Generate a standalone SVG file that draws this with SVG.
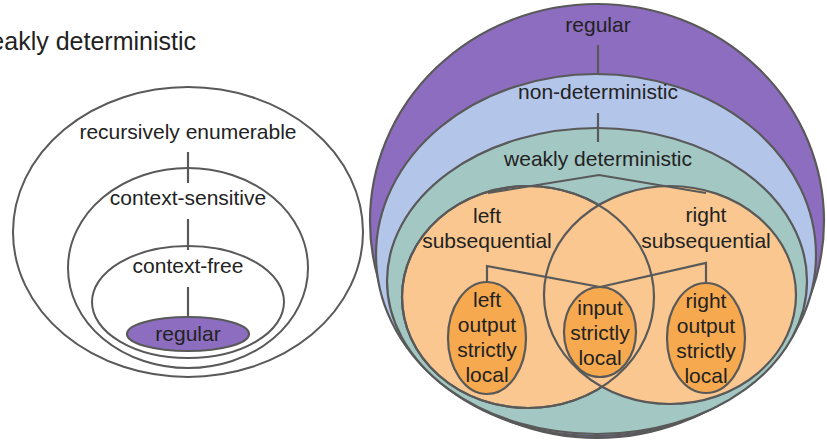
<svg xmlns="http://www.w3.org/2000/svg" width="827" height="442" viewBox="0 0 827 442">
<style>
text{font-family:"Liberation Sans",Arial,sans-serif;font-size:21px;fill:#222;text-anchor:middle}
.plain{fill:none;stroke:#595959;stroke-width:2}
.s{stroke:#595959;stroke-width:2.2}
.purple{fill:#8d6dbf}
.blue{fill:#b3c6ea}
.teal{fill:#a3c7c3}
.lo{fill:#f9c78f}
.do{fill:#f6a94f}
.outline{fill:none}
.conn line,.conn polyline{fill:none;stroke:#595959;stroke-width:2.2}
</style>
<text x="196" y="50" style="font-size:25px;text-anchor:end">weakly deterministic</text>

<g id="recursively-enumerable"><ellipse class="plain" cx="188" cy="232" rx="175" ry="145"/><text x="188" y="139">recursively enumerable</text></g>
<g id="context-sensitive"><ellipse class="plain" cx="188" cy="268" rx="120" ry="100"/><text x="188" y="205">context-sensitive</text></g>
<g id="context-free"><ellipse class="plain" cx="188" cy="302" rx="96" ry="56"/><text x="188" y="273">context-free</text></g>
<g id="regular-left"><ellipse class="s purple" cx="188" cy="334" rx="61" ry="17"/><text x="188" y="341">regular</text></g>

<g id="regular-right"><ellipse class="s purple" cx="597" cy="221" rx="227" ry="217"/><text x="598" y="32">regular</text></g>
<g id="non-deterministic"><ellipse class="s blue" cx="596" cy="255" rx="220" ry="181"/><text x="598" y="99">non-deterministic</text></g>
<g id="weakly-deterministic"><ellipse class="s teal" cx="597" cy="281" rx="210" ry="153"/><text x="598" y="166">weakly deterministic</text></g>
<g id="left-subsequential"><ellipse class="s lo" cx="528" cy="297" rx="126" ry="111"/><text x="487" y="223">left</text><text x="487" y="248">subsequential</text></g>
<g id="right-subsequential"><ellipse class="s lo" cx="670" cy="295" rx="126" ry="109"/><ellipse class="s outline" cx="528" cy="297" rx="126" ry="111"/><text x="706" y="222">right</text><text x="706" y="248">subsequential</text></g>
<g id="left-output-strictly-local"><ellipse class="s do" cx="487" cy="338" rx="39" ry="56"/><text x="487" y="307">left</text><text x="487" y="332">output</text><text x="487" y="357">strictly</text><text x="487" y="382">local</text></g>
<g id="input-strictly-local"><ellipse class="s do" cx="600" cy="332" rx="36" ry="45"/><text x="600" y="315">input</text><text x="600" y="340">strictly</text><text x="600" y="365">local</text></g>
<g id="right-output-strictly-local"><ellipse class="s do" cx="706" cy="338" rx="39" ry="55"/><text x="706" y="308">right</text><text x="706" y="333">output</text><text x="706" y="358">strictly</text><text x="706" y="383">local</text></g>

<g id="connectors" class="conn">
<line x1="188" y1="152" x2="188" y2="183"/>
<line x1="188" y1="219" x2="188" y2="250"/>
<line x1="188" y1="287" x2="188" y2="317"/>
<line x1="598" y1="45" x2="598" y2="75"/>
<line x1="598" y1="113" x2="598" y2="142"/>
<polyline points="488,193 599,175 706,193"/>
<polyline points="487,282 487,266 600,287"/>
<polyline points="706,283 706,263 600,287"/>
</g>
</svg>
